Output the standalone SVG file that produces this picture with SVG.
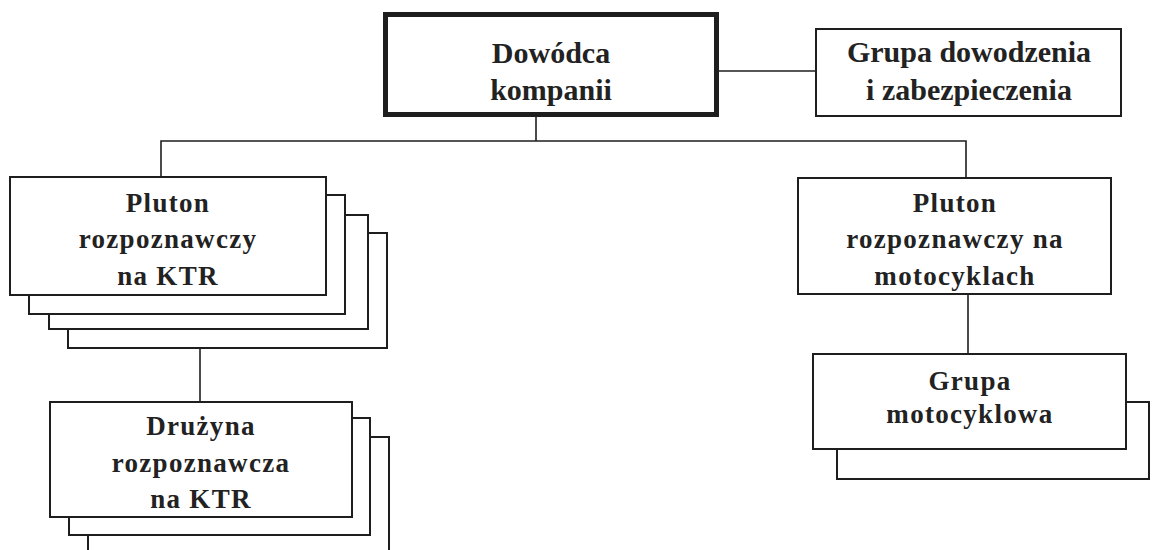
<svg xmlns="http://www.w3.org/2000/svg" width="1152" height="550" viewBox="0 0 1152 550">
<style>
.bx{fill:#fff;stroke:#1e1e1e;stroke-width:2}
.thick{fill:#fff;stroke:#1e1e1e;stroke-width:5}
.ln{fill:none;stroke:#1e1e1e;stroke-width:1.6}
text{font-family:'Liberation Serif','Times New Roman','DejaVu Serif',serif;font-weight:700;fill:#222;text-anchor:middle}
.t{font-size:27px;letter-spacing:1.3px}
.th{font-size:30px}
</style>
<rect width="1152" height="550" fill="#fff"/>
<g id="connectors">
<line class="ln" x1="719" y1="71" x2="815" y2="71"/>
<line class="ln" x1="536" y1="115" x2="536" y2="141"/>
<polyline class="ln" points="161,177 161,141 966,141 966,177"/>
<line class="ln" x1="200" y1="348" x2="200" y2="402"/>
<line class="ln" x1="968" y1="295" x2="968" y2="354"/>
</g>
<g id="dowodca">
<rect class="thick" x="385.5" y="14.5" width="331" height="100"/>
<text class="th" x="551" y="63">Dowódca</text>
<text class="th" x="551" y="100">kompanii</text>
</g>
<g id="grupa-dowodzenia">
<rect class="bx" x="816" y="29" width="305" height="87"/>
<text class="th" x="969" y="62">Grupa dowodzenia</text>
<text class="th" x="969" y="100">i zabezpieczenia</text>
</g>
<g id="pluton-ktr">
<rect class="bx" x="68" y="233" width="319" height="115"/>
<rect class="bx" x="49" y="215" width="319" height="114"/>
<rect class="bx" x="29" y="195" width="316" height="119"/>
<rect class="bx" x="10" y="177" width="316" height="118"/>
<text class="t" x="168" y="212">Pluton</text>
<text class="t" x="168" y="248">rozpoznawczy</text>
<text class="t" x="168" y="285">na KTR</text>
</g>
<g id="druzyna-ktr">
<rect class="bx" x="88" y="437" width="301" height="130"/>
<rect class="bx" x="69" y="418" width="301" height="117"/>
<rect class="bx" x="50" y="402" width="302" height="115"/>
<text class="t" x="201" y="435">Drużyna</text>
<text class="t" x="201" y="472">rozpoznawcza</text>
<text class="t" x="201" y="508">na KTR</text>
</g>
<g id="pluton-moto">
<rect class="bx" x="798" y="178" width="313" height="116"/>
<text class="t" x="955" y="212">Pluton</text>
<text class="t" x="955" y="248">rozpoznawczy na</text>
<text class="t" x="955" y="285">motocyklach</text>
</g>
<g id="grupa-moto">
<rect class="bx" x="837" y="402" width="312" height="77"/>
<rect class="bx" x="813" y="354" width="313" height="95"/>
<text class="t" x="970" y="390">Grupa</text>
<text class="t" x="970" y="423">motocyklowa</text>
</g>
</svg>
